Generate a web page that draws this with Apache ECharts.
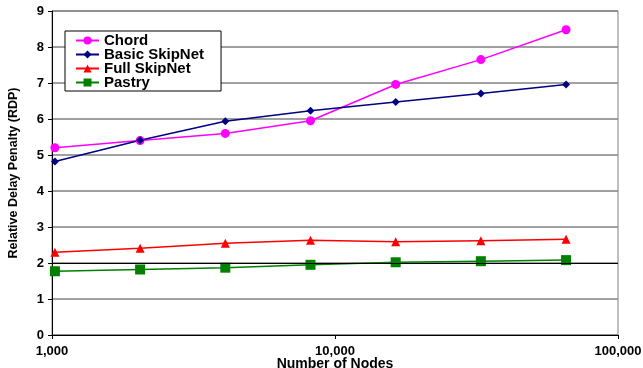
<!DOCTYPE html>
<html>
<head>
<meta charset="utf-8">
<script src="https://cdn.jsdelivr.net/npm/echarts@6/dist/echarts.min.js"></script>
<style>html,body{margin:0;padding:0;background:#fff}#c{width:643px;height:368px}</style>
</head>
<body>
<div id="c"></div>
<script>
const nodes = [1024, 2048, 4096, 8192, 16384, 32768, 65536];
const chord = [5.20, 5.40, 5.60, 5.95, 6.96, 7.65, 8.48];
const basicSkipNet = [4.82, 5.41, 5.94, 6.23, 6.47, 6.71, 6.96];
const fullSkipNet = [2.30, 2.41, 2.55, 2.63, 2.59, 2.62, 2.66];
const pastry = [1.77, 1.82, 1.87, 1.95, 2.02, 2.05, 2.08];
const xTicks = ['1,000', '10,000', '100,000'];

const font = 'Liberation Sans, Arial, sans-serif';
function pts(vals) { return nodes.map((n, i) => [n, vals[i]]); }
function fmt(v) { return Math.round(v).toLocaleString('en-US'); }

const chart = echarts.init(document.getElementById('c'), null, {renderer: 'canvas'});
const mk = (name, vals, color, symbol, size, extra) => Object.assign({
  name, type: 'line', data: pts(vals), symbol, symbolSize: size,
  showAllSymbol: true,
  lineStyle: {color, width: 1.5}, itemStyle: {color},
  animation: false
}, extra || {});

chart.setOption({
  animation: false,
  grid: {left: 52, right: 25, top: 11, bottom: 33, show: true, borderColor: '#808080', borderWidth: 1,
    outerBoundsMode: 'none', containLabel: false},
  legend: {
    orient: 'vertical', left: 65, top: 31,
    backgroundColor: '#fff', borderColor: '#000', borderWidth: 1,
    padding: [2, 17, 1, 10],
    itemWidth: 23, itemHeight: 10, itemGap: -1, itemTextGap: 4,
    textStyle: {fontFamily: font, fontWeight: 'bold', fontSize: 15, lineHeight: 14, color: '#000'},
    data: ['Chord', 'Basic SkipNet', 'Full SkipNet', 'Pastry']
  },
  xAxis: {
    type: 'log', logBase: 10, min: 1000, max: 100000,
    name: 'Number of Nodes', nameLocation: 'middle', nameGap: 22, nameMoveOverlap: false,
    nameTextStyle: {fontFamily: font, fontWeight: 'bold', fontSize: 14, color: '#000'},
    axisLine: {lineStyle: {color: '#000', width: 1}},
    axisTick: {show: true, length: 4, lineStyle: {color: '#000'}},
    minorTick: {show: false},
    splitLine: {show: false},
    axisLabel: {fontFamily: font, fontWeight: 'bold', fontSize: 13, color: '#000', margin: 10,
      formatter: v => { const s = fmt(v); return xTicks.includes(s) ? s : ''; }}
  },
  yAxis: {
    type: 'value', min: 0, max: 9, interval: 1,
    name: 'Relative Delay Penalty (RDP)', nameLocation: 'middle', nameGap: 32, nameMoveOverlap: false,
    nameTextStyle: {fontFamily: font, fontWeight: 'bold', fontSize: 12.5, color: '#000'},
    axisLine: {show: true, lineStyle: {color: '#000', width: 1}},
    axisTick: {show: true, length: 4, lineStyle: {color: '#000'}},
    splitLine: {show: true, lineStyle: {color: '#808080', width: 1.5}},
    axisLabel: {fontFamily: font, fontWeight: 'bold', fontSize: 13, color: '#000', margin: 8}
  },
  series: [
    mk('Chord', chord, '#FF00FF', 'circle', 9),
    mk('Basic SkipNet', basicSkipNet, '#000080', 'diamond', 8),
    mk('Full SkipNet', fullSkipNet, '#FF0000', 'triangle', 9),
    mk('Pastry', pastry, '#008000', 'rect', 10, {
      markLine: {silent: true, symbol: 'none', label: {show: false},
        lineStyle: {color: '#000', width: 1, type: 'solid'}, data: [{yAxis: 2}]}
    })
  ]
});
</script>
</body>
</html>
